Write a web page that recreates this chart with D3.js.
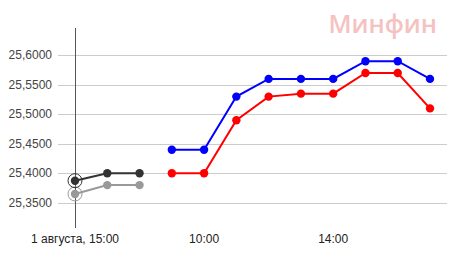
<!DOCTYPE html>
<html>
<head>
<meta charset="utf-8">
<script src="https://cdn.jsdelivr.net/npm/d3@7"></script>
<style>
  body { margin: 0; background: #fff; }
  svg { display: block; font-family: "Liberation Sans", Arial, sans-serif; }
</style>
</head>
<body>
<svg id="chart" width="453" height="254"></svg>
<script>
// slots along the x axis (day 1 15:00-17:00, then day 2 9:00-17:00)
var slots = ["d1-15", "d1-16", "d1-17", "9", "10", "11", "12", "13", "14", "15", "16", "17"];
var tickLabels = [["d1-15", "1 августа, 15:00"], ["10", "10:00"], ["14", "14:00"]];
var yTicks = [25.35, 25.40, 25.45, 25.50, 25.55, 25.60];

var blackSeries = [25.3875, 25.40, 25.40];
var greySeries = [25.365, 25.38, 25.38];
var blueSeries = [25.44, 25.44, 25.53, 25.56, 25.56, 25.56, 25.59, 25.59, 25.56];
var redSeries = [25.40, 25.40, 25.49, 25.53, 25.535, 25.535, 25.57, 25.57, 25.51];

var svg = d3.select("#chart");

var x = d3.scalePoint()
    .domain(slots)
    .range([75, 430]);

var y = d3.scaleLinear()
    .domain([25.35, 25.60])
    .range([202.8, 55.3]);

// grid
svg.append("g")
    .selectAll("line")
    .data(yTicks)
    .enter()
    .append("line")
    .attr("x1", 58)
    .attr("x2", 447)
    .attr("y1", function (d) { return Math.round(y(d)) + 0.5; })
    .attr("y2", function (d) { return Math.round(y(d)) + 0.5; })
    .style("stroke", "#cccccc")
    .style("stroke-width", 1);

svg.append("g")
    .selectAll("text")
    .data(yTicks)
    .enter()
    .append("text")
    .attr("x", 52)
    .attr("y", function (d) { return y(d) + 4; })
    .attr("text-anchor", "end")
    .style("font-size", "12px")
    .style("fill", "#444")
    .text(function (d) { return d3.format(".4f")(d).replace(".", ","); });

// crosshair at first point
svg.append("line")
    .attr("x1", Math.round(x("d1-15")) + 0.5)
    .attr("x2", Math.round(x("d1-15")) + 0.5)
    .attr("y1", 28)
    .attr("y2", 228)
    .style("stroke", "#555")
    .style("stroke-width", 1);

svg.append("g")
    .selectAll("text")
    .data(tickLabels)
    .enter()
    .append("text")
    .attr("x", function (d) { return x(d[0]); })
    .attr("y", 243)
    .attr("text-anchor", "middle")
    .style("font-size", "12px")
    .style("fill", "#222")
    .text(function (d) { return d[1]; });

// watermark
svg.append("text")
    .attr("x", 437)
    .attr("y", 33)
    .attr("text-anchor", "end")
    .style("font-family", "'Open Sans', sans-serif")
    .style("font-size", "25px")
    .style("font-weight", "600")
    .style("fill", "#f5c2c2")
    .text("Минфин");

var line = d3.line()
    .x(function (d) { return x(d.slot); })
    .y(function (d) { return y(d.v); });

function drawSeries(values, offset, color) {
    var pts = values.map(function (v, i) { return { slot: slots[i + offset], v: v }; });
    svg.append("path")
        .datum(pts)
        .attr("d", line)
        .style("fill", "none")
        .style("stroke", color)
        .style("stroke-width", 2);
    svg.append("g")
        .selectAll("circle")
        .data(pts)
        .enter()
        .append("circle")
        .attr("cx", function (d) { return x(d.slot); })
        .attr("cy", function (d) { return y(d.v); })
        .attr("r", 4.2)
        .style("fill", color);
    return pts;
}

var g1 = drawSeries(greySeries, 0, "#999999");
var b1 = drawSeries(blackSeries, 0, "#333333");
drawSeries(redSeries, 3, "#ff0000");
drawSeries(blueSeries, 3, "#0000ff");

// hover rings on the first points
[[g1[0], "#999999"], [b1[0], "#333333"]].forEach(function (p) {
    svg.append("circle")
        .attr("cx", x(p[0].slot))
        .attr("cy", y(p[0].v))
        .attr("r", 7)
        .style("fill", "none")
        .style("stroke", p[1])
        .style("stroke-width", 1);
});
</script>
</body>
</html>
